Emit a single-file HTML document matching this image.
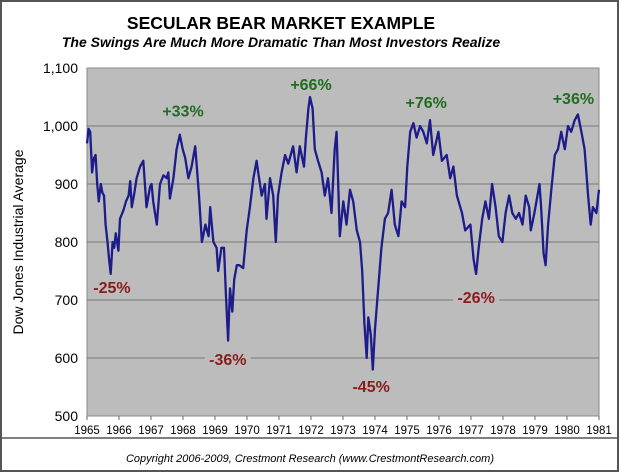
<!DOCTYPE html>
<html><head><meta charset="utf-8">
<style>
html,body{margin:0;padding:0;background:#fff;}
svg{display:block;font-family:"Liberation Sans",Arial,sans-serif;}
</style></head>
<body>
<svg id="chart" width="620" height="473" viewBox="0 0 620 473" xmlns="http://www.w3.org/2000/svg">
  <rect x="1" y="1" width="617" height="470" fill="#fff" stroke="#555" stroke-width="2"/>
  <line x1="1" y1="438" x2="618" y2="438" stroke="#555" stroke-width="1.5"/>
  <text x="281" y="29" text-anchor="middle" font-size="17.5" font-weight="bold" fill="#000">SECULAR BEAR MARKET EXAMPLE</text>
  <text x="281" y="47" text-anchor="middle" font-size="14" font-weight="bold" font-style="italic" fill="#000">The Swings Are Much More Dramatic Than Most Investors Realize</text>
  <rect x="87" y="68" width="512" height="348" fill="#bcbcbc" stroke="#888" stroke-width="1"/>
  <g id="grid"></g>
  <g id="yticks"></g>
  <g id="xticks"></g>
  <text transform="translate(23,242) rotate(-90)" text-anchor="middle" font-size="14" fill="#000">Dow Jones Industrial Average</text>
  <g id="labels"></g>
  <path id="line" fill="none" stroke="#1c1c8a" stroke-width="2.3" stroke-linejoin="round"/>
  <text x="310" y="462" text-anchor="middle" font-size="11" font-style="italic" fill="#000">Copyright 2006-2009, Crestmont Research (www.CrestmontResearch.com)</text>
</svg>
<script>
// data (t = years since start of 1965)
const times = [0,0.05,0.1,0.16,0.22,0.27,0.32,0.37,0.43,0.48,0.53,0.58,0.64,0.69,0.74,0.8,0.85,0.9,0.98,1.03,1.14,1.22,1.3,1.35,1.4,1.48,1.55,1.66,1.76,1.86,1.97,2.02,2.07,2.18,2.28,2.39,2.49,2.54,2.59,2.7,2.8,2.9,2.99,3.07,3.17,3.27,3.38,3.43,3.5,3.59,3.7,3.8,3.85,3.95,4.05,4.1,4.2,4.28,4.34,4.41,4.47,4.54,4.6,4.68,4.76,4.88,4.99,5.09,5.2,5.3,5.35,5.46,5.56,5.61,5.72,5.82,5.9,5.97,6.08,6.19,6.29,6.44,6.55,6.65,6.78,6.84,6.92,6.97,7.05,7.12,7.22,7.33,7.43,7.53,7.64,7.74,7.8,7.85,7.9,8.01,8.11,8.22,8.32,8.43,8.53,8.6,8.67,8.74,8.79,8.87,8.93,9.0,9.1,9.2,9.31,9.41,9.52,9.62,9.73,9.83,9.94,10.01,10.1,10.2,10.3,10.41,10.51,10.62,10.72,10.82,10.98,11.09,11.24,11.35,11.45,11.56,11.72,11.82,11.98,12.08,12.16,12.24,12.35,12.45,12.56,12.66,12.77,12.87,12.98,13.08,13.19,13.29,13.4,13.5,13.61,13.71,13.82,13.87,13.98,14.14,14.19,14.27,14.33,14.41,14.51,14.62,14.72,14.82,14.93,15.03,15.13,15.24,15.34,15.45,15.55,15.66,15.74,15.81,15.92,16.0];
const values = [970,995,990,920,945,950,900,870,900,885,880,830,800,770,745,800,790,815,785,840,855,870,880,905,860,885,910,930,940,860,895,900,870,830,900,915,910,920,875,910,960,985,960,945,910,930,965,930,880,800,830,810,860,800,790,750,790,790,710,630,720,680,735,760,760,755,820,860,910,940,920,880,900,840,910,880,800,880,920,950,935,965,920,965,930,980,1030,1050,1030,960,940,920,880,910,850,960,990,900,810,870,830,890,870,820,800,750,660,600,670,640,580,650,720,790,840,850,890,830,810,870,860,930,990,1005,980,1000,990,970,1010,950,990,940,950,910,930,880,850,820,830,770,745,790,840,870,840,900,860,810,800,850,880,850,840,850,830,880,860,820,850,900,860,780,760,830,890,950,960,990,960,1000,990,1010,1020,990,960,880,830,860,850,890];
const yTicks = [500,600,700,800,900,1000,1100];
const yTickLabels = ["500","600","700","800","900","1,000","1,100"];
const xTickLabels = ["1965","1966","1967","1968","1969","1970","1971","1972","1973","1974","1975","1976","1977","1978","1979","1980","1981"];
const swingLabels = ["+33%","+66%","+76%","+36%","-25%","-36%","-45%","-26%"];
const swingTimes = [3.0,7.0,10.6,15.2,0.78,4.4,8.88,12.16];
const swingValues = [1016,1062,1031,1038,712,588,541,695];

const X0=87, X1=599, Y0=416, Y1=68;
const xs = t => X0 + (X1-X0)*t/16;
const ys = v => Y0 - (Y0-Y1)*(v-500)/600;
const NS="http://www.w3.org/2000/svg";
function mk(tag, attrs, parent){const e=document.createElementNS(NS,tag);for(const k in attrs)e.setAttribute(k,attrs[k]);parent.appendChild(e);return e;}

const grid=document.getElementById('grid'), yt=document.getElementById('yticks'), xt=document.getElementById('xticks'), lb=document.getElementById('labels');
yTicks.forEach((v,i)=>{
  if(v>500 && v<1100){
    const g=mk('line',{x1:X0,x2:X1,y1:ys(v),y2:ys(v),stroke:'#7a7a7a','stroke-width':1},grid);
    
    
  }
  const t=mk('text',{x:78,y:ys(v)+5,'text-anchor':'end','font-size':14,fill:'#000'},yt);
  t.textContent=yTickLabels[i];
  
  
});
xTickLabels.forEach((s,i)=>{
  const tk=mk('line',{x1:xs(i),x2:xs(i),y1:Y0,y2:Y0+4,stroke:'#666'},xt);
  
  
  const t=mk('text',{x:xs(i),y:434,'text-anchor':'middle','font-size':11.5,fill:'#000'},xt);
  t.textContent=s;
  
  
});
swingLabels.forEach((s,i)=>{
  const up=s[0]==='+';
  const cx=xs(swingTimes[i]), cy=ys(swingValues[i]);
  if(!up){
    const r=mk('rect',{x:cx-23,y:cy-14,width:46,height:18,fill:'#bcbcbc'},lb);
    
    
  }
  const t=mk('text',{x:cx,y:cy,'text-anchor':'middle','font-size':16,'font-weight':'bold',fill:up?'#1f6e1f':'#8a1c1c'},lb);
  t.textContent=s;
  
  
});
let d='';
times.forEach((t,i)=>{d+=(i?'L':'M')+xs(t).toFixed(1)+','+ys(values[i]).toFixed(1);});
document.getElementById('line').setAttribute('d',d);
</script>
</body></html>
